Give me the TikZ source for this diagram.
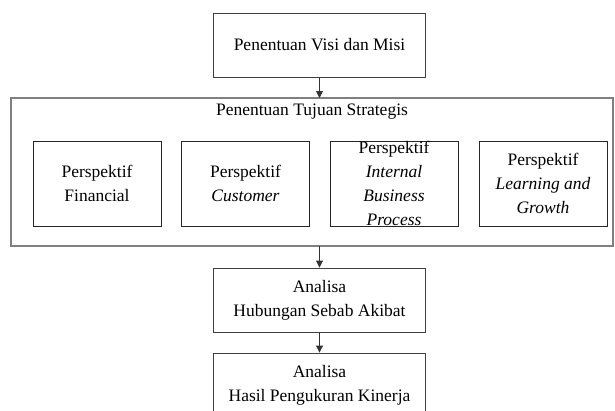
\documentclass[tikz,border=0pt]{standalone}
\usepackage{fontspec}
\setmainfont{Liberation Serif}
\usetikzlibrary{arrows.meta}
\begin{document}
\begin{tikzpicture}[x=1pt,y=-1pt,
  every node/.style={font=\fontsize{17.5}{24}\selectfont, align=center, inner sep=0pt},
  boxA/.style={draw=black!75, line width=0.9pt, minimum width=212pt, minimum height=64pt},
  inbox/.style={draw=black!85, line width=0.9pt, minimum width=128pt, minimum height=85pt},
  outer/.style={draw=black!50, line width=1.1pt},
  conn/.style={draw=black!80, line width=0.9pt, -{Triangle[length=7pt,width=7pt]}}]
\useasboundingbox (0,0) rectangle (615,410);
\clip (0,0) rectangle (615,410);
\node[boxA] (visi) at (319.5,45) {Penentuan Visi dan Misi};
\path[outer] (11,98) rectangle (613,246);
\coordinate (outTop) at (319.5,98);
\coordinate (outBot) at (319.5,246);
\node (title) at (312,112) {Penentuan Tujuan Strategis};
\node[inbox] (p1) at (97,183.5) {Perspektif\\Financial};
\node[inbox] (p2) at (245.5,183.5) {Perspektif\\\textit{Customer}};
\node[inbox] (p3) at (394,183.5) {Perspektif\\\textit{Internal}\\\textit{Business}\\\textit{Process}};
\node[inbox] (p4) at (543,183.5) {Perspektif\\\textit{Learning and}\\\textit{Growth}};
\node[boxA] (sebab) at (319.5,300) {Analisa\\Hubungan Sebab Akibat};
\node[boxA] (hasil) at (319.5,385) {Analisa\\Hasil Pengukuran Kinerja};
\draw[conn] (visi.south) -- (outTop);
\draw[conn] (outBot) -- (sebab.north);
\draw[conn] (sebab.south) -- (hasil.north);
\end{tikzpicture}
\end{document}
